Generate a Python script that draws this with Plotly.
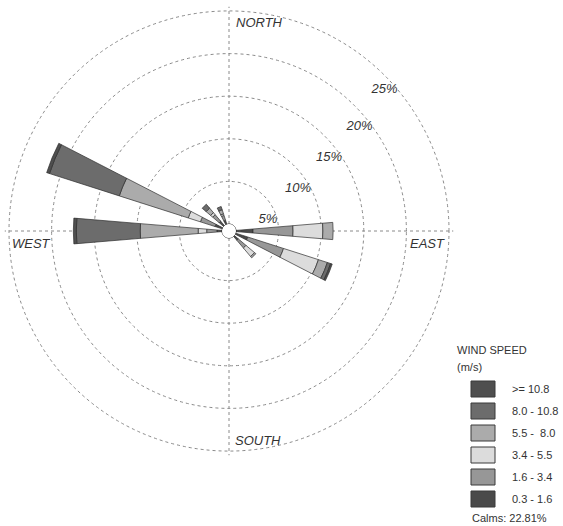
import plotly.graph_objects as go

# ---------------- data ----------------
directions = ["N", "NNE", "NE", "ENE", "E", "ESE", "SE", "SSE",
              "S", "SSW", "SW", "WSW", "W", "WNW", "NW", "NNW"]
direction_deg = [0, 22.5, 45, 67.5, 90, 112.5, 135, 157.5,
                 180, 202.5, 225, 247.5, 270, 292.5, 315, 337.5]

speed_bins = ["0.3 - 1.6", "1.6 - 3.4", "3.4 - 5.5", "5.5 -  8.0", "8.0 - 10.8", ">= 10.8"]

#            N   NNE NE  ENE  E    ESE  SE   SSE S   SSW SW  WSW  W     WNW   NW   NNW
freq_03_16 = [0, 0, 0, 0, 2.0, 1.5, 0.6, 0, 0, 0, 0, 0, 0.6, 0.9, 0.7, 0.5]
freq_16_34 = [0, 0, 0, 0, 4.7, 4.4, 1.2, 0, 0, 0, 0, 0, 1.2, 1.8, 1.0, 0.6]
freq_34_55 = [0, 0, 0, 0, 3.5, 4.3, 1.3, 0, 0, 0, 0, 0, 1.0, 1.5, 0.3, 0.2]
freq_55_80 = [0, 0, 0, 0, 1.2, 1.1, 0.2, 0, 0, 0, 0, 0, 6.8, 8.5, 0.7, 0.5]
freq_80_108 = [0, 0, 0, 0, 0.0, 0.4, 0.0, 0, 0, 0, 0, 0, 7.5, 8.6, 0.6, 0.4]
freq_108_up = [0, 0, 0, 0, 0.0, 0.2, 0.0, 0, 0, 0, 0, 0, 0.35, 0.35, 0.0, 0.0]

series = [freq_03_16, freq_16_34, freq_34_55, freq_55_80, freq_80_108, freq_108_up]

ring_ticks = [5, 10, 15, 20, 25]
ring_labels = ["5%", "10%", "15%", "20%", "25%"]
compass_labels = ["NORTH", "EAST", "SOUTH", "WEST"]
calms_pct = 22.81

# ---------------- style ----------------
bin_colors = ["#4a4a4a", "#979797", "#dcdcdc", "#ababab", "#6c6c6c", "#4f4f4f"]
ring_label_theta = [77, 63, 57, 54, 50]
W, H = 563, 526
FONT = "Liberation Sans, Arial, sans-serif"
TXT = "#333333"
R_MAX = 25.5          # radial range end (a bit beyond the last ring so it is drawn)
CX, CY = 229, 231     # centre in pixels
HOLE_PX = 7
RING25_PX = 220
R_PX = HOLE_PX + (RING25_PX - HOLE_PX) * R_MAX / 25.0


def px(x):
    return x / W


def py(y):
    return 1 - y / H


fig = go.Figure()

for name, vals, col in zip(speed_bins, series, bin_colors):
    fig.add_trace(go.Barpolar(
        r=vals, theta=direction_deg, width=9.5, name=name,
        marker=dict(color=col, line=dict(color="#2e2e2e", width=0.7)),
        showlegend=False, hoverinfo="skip"))

# calm circle (edge of the hole)
circ_theta = list(range(0, 361, 5))
fig.add_trace(go.Scatterpolar(
    r=[0] * len(circ_theta), theta=circ_theta, mode="lines",
    line=dict(color="#333333", width=1), showlegend=False, hoverinfo="skip"))

# ring percentage labels
fig.add_trace(go.Scatterpolar(
    r=ring_ticks, theta=ring_label_theta, mode="text",
    text=["<i>%s</i>" % t for t in ring_labels], textposition="middle left",
    textfont=dict(family=FONT, size=13, color=TXT),
    showlegend=False, hoverinfo="skip"))

fig.update_layout(
    width=W, height=H,
    margin=dict(l=0, r=0, t=0, b=0),
    paper_bgcolor="white", plot_bgcolor="white",
    font=dict(family=FONT, color=TXT),
    polar=dict(
        domain=dict(x=[px(CX - R_PX), px(CX + R_PX)], y=[py(CY + R_PX), py(CY - R_PX)]),
        bgcolor="white",
        hole=HOLE_PX / R_PX,
        barmode="stack",
        radialaxis=dict(range=[0, R_MAX], tickvals=ring_ticks, showticklabels=False,
                        ticks="", showline=False, showgrid=True,
                        gridcolor="#8a8a8a", griddash="dot", gridwidth=1),
        angularaxis=dict(rotation=90, direction="clockwise",
                         tickvals=[0, 90, 180, 270], showticklabels=False, ticks="",
                         showline=False, showgrid=True,
                         gridcolor="#8a8a8a", griddash="dot", gridwidth=1),
    ),
)

# compass labels
ann = []
ann.append(dict(x=px(234), y=py(22), text="<i>%s</i>" % compass_labels[0], xanchor="left"))
ann.append(dict(x=px(447), y=py(243), text="<i>%s</i>" % compass_labels[1], xanchor="right"))
ann.append(dict(x=px(233), y=py(440), text="<i>%s</i>" % compass_labels[2], xanchor="left"))
ann.append(dict(x=px(10), y=py(243), text="<i>%s</i>" % compass_labels[3], xanchor="left"))
for a in ann:
    a.update(xref="paper", yref="paper", yanchor="middle", showarrow=False,
             font=dict(family=FONT, size=13, color=TXT))
    fig.add_annotation(**a)

# custom legend
fig.add_annotation(x=px(455), y=py(350), xref="paper", yref="paper", xanchor="left",
                   yanchor="middle", showarrow=False, text="WIND SPEED",
                   font=dict(family=FONT, size=11, color=TXT))
fig.add_annotation(x=px(455), y=py(367), xref="paper", yref="paper", xanchor="left",
                   yanchor="middle", showarrow=False, text="(m/s)",
                   font=dict(family=FONT, size=11, color=TXT))
for i, (name, col) in enumerate(zip(speed_bins[::-1], bin_colors[::-1])):
    yc = 389 + 22 * i
    fig.add_shape(type="rect", xref="paper", yref="paper",
                  x0=px(471), x1=px(495), y0=py(yc + 8), y1=py(yc - 8),
                  fillcolor=col, line=dict(color="#3a3a3a", width=1))
    fig.add_annotation(x=px(510), y=py(yc), xref="paper", yref="paper", xanchor="left",
                       yanchor="middle", showarrow=False, text=name.replace("  ", " \u00a0"),
                       font=dict(family=FONT, size=11, color=TXT))
fig.add_annotation(x=px(470), y=py(518), xref="paper", yref="paper", xanchor="left",
                   yanchor="middle", showarrow=False, text="Calms: %.2f%%" % calms_pct,
                   font=dict(family=FONT, size=11, color=TXT))

fig.write_html("out.html", config={"displayModeBar": False},
               post_script="document.body.style.margin='0';document.body.style.overflow='hidden';")
